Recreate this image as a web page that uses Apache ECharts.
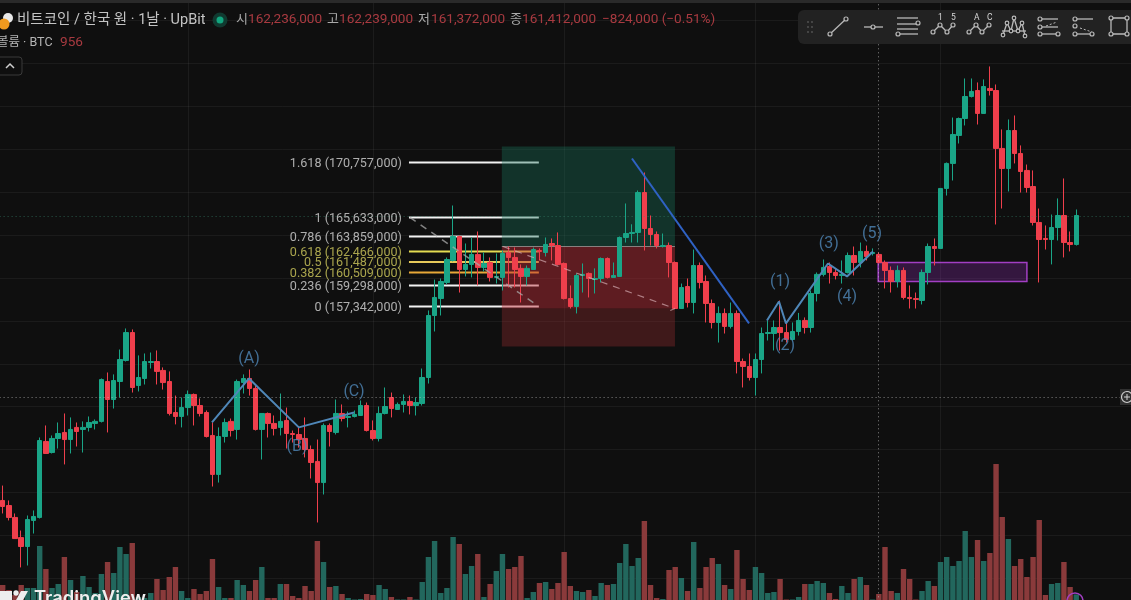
<!DOCTYPE html>
<html><head><meta charset="utf-8">
<style>html,body{margin:0;padding:0;background:#0f0f0f;overflow:hidden}#c{width:1131px;height:600px;filter:blur(0.35px)}</style>
<script src="https://cdn.jsdelivr.net/npm/echarts@6/dist/echarts.min.js"></script>
</head><body><div id="c"></div>
<script>
const opens=[139.26,138.79,137.68,135.80,134.97,137.40,137.68,144.76,143.73,145.04,
145.60,144.94,146.07,145.88,146.07,146.44,146.63,150.35,148.67,150.35,
152.31,154.91,149.98,150.63,152.12,152.21,151.38,150.35,147.46,147.09,
147.92,149.14,148.11,147.46,145.32,141.69,145.22,146.63,145.88,150.25,
150.63,149.70,145.88,147.37,146.44,146.07,146.72,145.50,145.41,145.04,
144.01,142.90,140.93,146.25,145.60,147.37,147.00,147.09,147.18,148.11,
145.78,145.04,147.37,148.86,147.74,148.21,148.49,148.11,148.30,150.72,
156.50,158.08,159.58,161.63,163.86,160.79,161.26,162.19,160.98,161.44,
160.05,160.05,162.37,161.91,160.89,160.14,160.79,162.56,162.37,163.21,
163.02,161.35,158.08,157.34,160.23,160.42,159.86,159.95,161.81,160.05,
160.14,163.77,164.14,164.24,167.96,164.61,164.05,162.93,163.02,161.44,
157.15,159.20,157.71,161.16,159.67,157.62,155.85,156.69,155.48,156.69,
152.21,151.75,150.72,152.40,154.82,154.82,155.38,154.91,154.26,155.01,
156.04,155.38,158.55,160.33,161.07,160.51,160.23,160.51,162.09,161.44,
162.47,162.28,162.19,161.44,160.70,159.67,160.70,158.18,158.08,157.90,
160.51,162.93,162.75,168.34,170.67,173.28,174.86,176.91,177.47,175.33,
177.66,177.47,172.07,170.20,173.74,171.60,170.02,168.52,165.17,163.68,
163.58,164.70,165.82,163.30,163.12];
const closes=[138.70,137.68,135.71,134.97,137.49,137.77,144.85,143.64,145.04,145.50,
144.94,145.88,145.69,146.07,146.53,146.63,150.53,148.67,150.44,152.40,
154.91,149.79,150.72,152.21,152.21,151.29,150.25,147.37,147.09,147.92,
149.14,148.11,147.37,145.22,141.69,145.22,146.53,145.78,150.35,150.63,
149.70,145.88,147.37,146.44,145.97,146.63,145.50,145.41,144.94,144.01,
142.80,140.93,146.25,145.69,147.37,146.90,147.09,147.28,148.11,145.78,
145.04,147.37,148.02,147.83,148.21,148.49,148.11,148.39,150.72,156.50,
158.18,159.67,161.72,163.86,160.79,161.26,162.19,160.98,161.35,160.05,
160.14,162.28,161.91,160.79,160.14,160.89,162.65,162.47,163.12,163.02,
161.26,158.08,157.34,160.23,160.33,159.95,159.95,161.81,160.05,160.23,
163.77,164.14,164.24,167.96,164.61,164.05,163.02,163.02,161.44,157.15,
159.11,157.71,161.16,159.58,157.62,155.85,156.69,155.48,156.69,152.21,
151.75,150.72,152.40,154.82,154.91,155.38,154.91,154.26,155.01,156.04,
155.38,158.55,160.33,160.98,160.51,160.23,160.33,162.09,161.44,162.47,
162.00,162.37,161.44,160.70,159.67,160.70,158.18,158.08,157.99,160.51,
162.93,162.75,168.34,170.67,173.37,174.86,176.91,177.38,175.33,177.84,
177.47,172.07,170.20,173.74,171.60,169.92,168.43,165.17,163.58,163.58,
164.70,165.82,163.30,163.12,165.82];
const lows=[138.05,137.40,135.71,133.02,133.20,136.18,137.58,143.64,143.64,144.10,
142.62,143.64,144.29,143.73,145.69,145.88,146.53,145.60,147.83,148.86,
152.21,149.32,149.42,150.07,151.56,150.07,149.60,147.18,146.35,146.07,
147.18,146.25,147.09,145.13,140.56,140.93,144.66,145.22,144.94,149.23,
149.04,145.78,143.08,145.13,145.32,145.32,144.10,144.66,144.19,143.27,
141.31,137.21,139.82,144.29,145.41,146.63,146.07,147.00,147.18,145.69,
144.85,144.76,147.28,147.00,147.74,147.46,147.28,147.18,148.11,150.16,
155.01,156.50,159.39,161.54,158.64,160.14,160.05,159.30,160.61,159.67,
159.48,158.83,159.11,159.11,157.71,159.30,160.79,161.63,162.00,161.63,
161.16,157.99,157.15,156.69,158.64,158.18,158.55,159.58,159.95,160.05,
160.14,163.30,163.30,163.30,162.56,163.02,162.75,162.84,160.05,157.15,
157.15,157.25,156.69,159.02,155.85,155.29,153.98,154.82,155.29,151.10,
149.79,150.44,149.04,151.10,154.17,153.24,153.24,153.98,154.17,154.63,
154.82,154.91,157.81,160.14,159.48,159.86,159.48,160.42,160.23,160.98,
161.63,162.09,161.35,159.02,158.64,159.11,157.99,157.15,157.15,157.53,
159.39,161.16,162.75,167.68,169.08,172.53,174.21,176.82,174.30,175.33,
177.00,164.98,166.47,168.06,170.67,167.96,167.96,164.89,159.58,162.65,
161.26,163.49,161.91,162.47,163.02];
const highs=[140.65,139.26,138.05,136.46,137.86,138.33,145.13,146.25,145.32,146.53,
147.37,147.00,146.53,146.63,147.09,146.81,150.63,151.19,151.01,153.33,
155.29,155.20,152.78,152.96,153.05,153.24,151.66,151.29,149.04,148.86,
149.51,149.23,148.77,147.65,146.53,146.07,146.90,146.90,150.53,151.01,
151.47,149.98,147.37,147.46,147.18,149.23,147.92,145.78,146.07,147.00,
144.38,144.94,146.44,146.44,148.67,148.21,147.55,147.65,148.58,148.39,
146.72,148.02,149.79,149.32,148.39,149.14,149.04,148.86,151.56,156.97,
159.85,159.95,161.91,166.75,163.95,163.21,163.77,164.33,162.37,161.91,
162.28,162.56,162.93,162.84,161.26,161.16,162.84,162.75,163.77,163.68,
164.24,161.44,159.30,160.42,161.35,160.51,160.89,161.91,161.91,161.44,
163.86,166.94,165.00,168.15,169.83,165.82,164.33,164.14,163.30,161.54,
159.48,159.95,162.65,161.44,160.23,157.99,157.34,157.15,157.71,156.97,
152.49,152.96,152.96,155.38,156.04,156.04,157.90,155.85,155.85,156.74,
156.32,158.83,160.51,161.72,161.44,160.89,161.63,162.37,162.93,163.30,
163.02,162.75,162.37,161.63,161.07,161.16,160.98,159.30,158.64,160.79,
163.21,163.68,168.34,170.76,174.95,174.95,178.59,178.59,178.22,178.50,
179.71,178.03,173.84,174.77,175.14,172.35,170.57,170.02,166.47,164.89,
165.91,167.41,169.27,164.33,166.38];
const volumes=[1050,1000,950,1050,1020,1020,1440,1210,1020,1060,
1330,1100,980,1140,1030,970,1160,1280,1170,1430,
1360,1470,930,920,970,1110,1000,1130,1230,990,
920,1010,960,990,1310,1030,920,920,1100,1050,
990,1100,1230,920,920,1060,1060,940,920,1040,
990,1490,1280,1030,1040,960,920,905,910,960,
950,1050,1010,930,905,905,930,905,1080,1330,
1490,970,1020,1530,1460,1160,1240,1360,930,1060,
1190,1360,1210,1230,1340,920,980,1070,1080,1010,
1070,1380,1040,990,980,1000,940,1070,1050,1060,
1270,1460,1240,1320,1690,1050,920,910,1200,1230,
1120,990,1480,1020,1230,1320,1260,1050,1010,1400,
1110,1000,1230,1170,970,980,1110,905,905,930,
1060,1060,1090,1070,970,910,1040,970,1110,1130,
1050,905,960,1430,990,970,1210,1110,905,990,
1090,1040,1280,1330,1240,1290,1590,1330,1500,1290,
1370,2260,1730,1510,1240,1310,1130,1330,1700,950,
1060,1070,1280,1030,956];
const fibLevels=[170.757,165.633,163.859,162.466,161.487,160.509,159.298,157.342];
const fibNames=['1.618 (170,757,000)','1 (165,633,000)','0.786 (163,859,000)','0.618 (162,466,000)','0.5 (161,487,000)','0.382 (160,509,000)','0.236 (159,298,000)','0 (157,342,000)'];
const fibColors=['#f2f2f2','#f2f2f2','#f2f2f2','#e4dc52','#e6c95a','#e8a838','#f2f2f2','#f2f2f2'];
const fibTextColors=['#d6d6d6','#d6d6d6','#d6d6d6','#cfc95c','#cfc95c','#cfc95c','#d6d6d6','#d6d6d6'];
const fibSpan=[65.85,86.9];
const abcWave=[[33.92,146.53],[39.92,150.63],[48.0,146.07],[56.94,147.46]];
const impulseWave=[[123.87,156.04],[125.82,157.81],[126.95,155.76],[133.76,161.35],[136.84,160.14],[141.05,162.47]];
const trendLine=[[101.99,171.13],[120.96,155.76]];
const dashA=[[66.0,165.64],[86.43,157.53]];
const dashB=[[81.08,162.93],[108.96,157.15],[108.2,156.97]];
const waveLabels=[['(A)',39.92,152.4],['(B)',47.7,144.2],['(C)',56.94,149.33],['(1)',125.98,159.58],['(2)',126.8,153.7],['(3)',133.9,163.12],['(4)',136.84,158.27],['(5)',140.9,164.14]];
const monthLines=[30,60,91,122,152];
const posSpan=[80.9,108.96];
const posLevels=[172.25,162.93,157.15,153.61];
const zoneBox=[[141.9,161.44],[166,159.67]];
const lastLine=165.73, crossPrice=148.86, crossIndex=141.9;
const PRICE_MIN=128, PRICE_MAX=188, SLOTS=184;

const categories=Array.from({length:SLOTS},(_,i)=>'D'+i);
const candle=opens.map((o,i)=>[o,closes[i],lows[i],highs[i]]);
const GREEN='#1aa587',RED='#ef3f4c',VG='#22675d',VR='#8a3a3b',BLUE='#4f87b8';
const FONT='Roboto,"Noto Sans CJK KR",sans-serif';
const volData=volumes.map((v,i)=>({value:v,itemStyle:{color:closes[i]>=opens[i]?VG:VR}}));
const ln=(data,color,width,z,extra)=>Object.assign({type:'line',xAxisIndex:1,yAxisIndex:0,data,symbol:'none',silent:true,z,
  lineStyle:Object.assign({color,width},extra||{}),animation:false},{});
const series=[];
series.push({type:'bar',xAxisIndex:2,yAxisIndex:1,data:volData,barWidth:5.4,z:1,silent:true,animation:false});
series.push({type:'line',xAxisIndex:1,yAxisIndex:0,data:[],z:1,silent:true,animation:false,
  markLine:{silent:true,symbol:'none',animation:false,label:{show:false},z:1,
   data:monthLines.map(x=>({xAxis:x,lineStyle:{color:'rgba(255,255,255,0.055)',width:1,type:'solid'}}))}});
fibLevels.forEach((p,i)=>series.push(ln([[fibSpan[0],p],[fibSpan[1],p]],fibColors[i],2,2)));
series.push({type:'scatter',xAxisIndex:1,yAxisIndex:0,symbolSize:0,z:6,silent:true,animation:false,
  data:fibLevels.map((p,i)=>({value:[fibSpan[0],p],label:{show:true,position:'left',distance:7,offset:[0,1],formatter:fibNames[i],color:fibTextColors[i],fontSize:12.6,fontFamily:FONT}}))});
series.push({type:'line',xAxisIndex:1,yAxisIndex:0,data:[],z:3,silent:true,animation:false,
  markArea:{silent:true,animation:false,z:3,label:{show:false},data:[
   [{coord:[posSpan[0],posLevels[0]],itemStyle:{color:'rgba(24,110,88,0.38)'}},{coord:[posSpan[1],posLevels[1]]}],
   [{coord:[posSpan[0],posLevels[1]],itemStyle:{color:'rgba(190,45,55,0.45)'}},{coord:[posSpan[1],posLevels[2]]}],
   [{coord:[posSpan[0],posLevels[2]],itemStyle:{color:'rgba(160,45,50,0.33)'}},{coord:[posSpan[1],posLevels[3]]}],
   [{coord:zoneBox[0],itemStyle:{color:'rgba(130,40,165,0.32)',borderColor:'#a23fc4',borderWidth:1.5}},{coord:zoneBox[1]}]
  ]}});
series.push(ln([[posSpan[0],posLevels[1]],[posSpan[1],posLevels[1]]],'rgba(190,190,190,0.6)',1,3));
series.push({type:'candlestick',xAxisIndex:0,yAxisIndex:0,data:candle,barWidth:5,z:4,silent:true,animation:false,
  itemStyle:{color:GREEN,color0:RED,borderColor:GREEN,borderColor0:RED,borderWidth:1}});
series.push(ln(dashA,'rgba(170,170,170,0.75)',1.5,5,{type:[7,6]}));
series.push(ln(dashB,'rgba(210,170,175,0.7)',1.2,5,{type:[7,6]}));
series.push(ln(abcWave,BLUE,2,5));
series.push(ln(impulseWave,BLUE,2,5));
series.push(ln(trendLine,'#2f62c4',2,5));
series.push({type:'line',xAxisIndex:1,yAxisIndex:0,data:[],z:5,silent:true,animation:false,
  markLine:{silent:true,symbol:'none',animation:false,label:{show:false},data:[
   {yAxis:lastLine,lineStyle:{color:'rgba(60,150,120,0.55)',type:[1,3],width:1}},
   {yAxis:crossPrice,lineStyle:{color:'rgba(210,210,210,0.6)',type:[1,3],width:1}},
   {xAxis:crossIndex,lineStyle:{color:'rgba(210,210,210,0.6)',type:[1,3],width:1}}
  ]}});
series.push({type:'scatter',xAxisIndex:1,yAxisIndex:0,symbolSize:0,z:6,silent:true,animation:false,
  data:waveLabels.map(w=>({value:[w[1],w[2]],label:{show:true,position:'inside',formatter:w[0],color:'#4f87b8',fontSize:16,fontFamily:FONT}}))});

const g=[];
const txt=(x,y,t,color,size,extra)=>g.push({type:'text',x,y,z:100,style:Object.assign({text:t,fill:color,font:`${size}px Roboto,"Noto Sans CJK KR"`,textVerticalAlign:'middle'},extra||{})});
const seg=(pts,stroke,w,dash)=>g.push({type:'polyline',z:100,shape:{points:pts},style:{stroke,lineWidth:w||1.3,fill:null,lineDash:dash||null}});
const dot=(x,y,r,stroke,fill,w)=>g.push({type:'circle',z:101,shape:{cx:x,cy:y,r},style:{stroke:stroke||null,fill:fill||'transparent',lineWidth:w||1.2}});
const box=(x,y,w,h,fill,stroke,r)=>g.push({type:'rect',z:99,shape:{x,y,width:w,height:h,r:r||0},style:{fill,stroke:stroke||null,lineWidth:1}});
const IC='#b9b9b9';
box(0,0,1131,3,'#2a2a2a');
// header
dot(8,18,5,null,'#e8e8e8');dot(4,24,5.5,null,'#f09a1f');
txt(17,20,'비트코인 / 한국 원 · 1날 · UpBit','#c4c4c4',14.5);
dot(220,20,7.5,null,'#103a30');dot(220,20,3.5,null,'#12a67f');
const HR='#a83a40',HT='#a9a9a9';
txt(236,20,'시',HT,13);txt(248,20,'162,236,000',HR,13.6);
txt(327,20,'고',HT,13);txt(339,20,'162,239,000',HR,13.6);
txt(418,20,'저',HT,13);txt(431,20,'161,372,000',HR,13.6);
txt(510,20,'종',HT,13);txt(522,20,'161,412,000',HR,13.6);
txt(602,20,'−824,000 (−0.51%)',HR,13.6);
txt(-3,43,'볼륨 · BTC','#b5b5b5',12.5);txt(60,43,'956',HR,13.6);
box(-3,57,25,18,'#0f0f0f','#3a3a3a',3);seg([[6,68],[10,64],[14,68]],'#cfcfcf',1.5);
// toolbar
box(798,10,340,34,'#222222',null,6);
[[808,22],[812,22],[808,27],[812,27],[808,32],[812,32]].forEach(p=>dot(p[0],p[1],0.9,null,'#555'));
seg([[830,34],[846,19]],IC);dot(830,34,2,IC,'#222');dot(846,19,2,IC,'#222');
seg([[864,27],[883,27]],IC);dot(873,27,2,IC,'#222');
[18,24,29,34].forEach(y=>seg([[897,y],[918,y]],IC));dot(918,23,2,IC,'#222');dot(898,34,2,IC,'#222');
[[933,940,947,953,'1','5'],[969,976,982,989,'A','C']].forEach(a=>{
 seg([[a[0],32],[a[1],25],[a[2],32],[a[3],25]],IC);
 [[a[0],32],[a[1],25],[a[2],32],[a[3],25]].forEach(p=>dot(p[0],p[1],2,IC,'#222'));
 txt(a[1]-2,18,a[4],'#d5d5d5',8.5);txt(a[3]-2,18,a[5],'#d5d5d5',8.5);
});
const hp=[[1003,35],[1007,23],[1011,31],[1014,18],[1018,31],[1022,23],[1025,36]];
seg(hp,IC);seg([[1002,31],[1026,31]],IC);hp.forEach(p=>dot(p[0],p[1],1.8,IC,'#222'));
[19,27,34].forEach(y=>{seg([[1040,y],[1058,y]],IC);dot(1040,y,2,IC,'#222');});dot(1058,34,2,IC,'#222');seg([[1046,26],[1057,22]],IC,1,[2,2]);
[19,34].forEach(y=>{seg([[1075,y],[1093,y]],IC);});[19,26,34].forEach(y=>dot(1075,y,2,IC,'#222'));dot(1092,34,2,IC,'#222');seg([[1080,28],[1092,32]],IC,1,[2,2]);
seg([[1111,18],[1127,18],[1127,34],[1111,34],[1111,18]],IC);[[1111,18],[1127,18],[1111,34],[1127,34]].forEach(p=>dot(p[0],p[1],2,IC,'#222'));
// crosshair button
box(1120,389,14,16,'#303030');dot(1127,397,5.5,'#d0d0d0','transparent');seg([[1124,397],[1130,397]],'#d0d0d0',1);seg([[1127,394],[1127,400]],'#d0d0d0',1);
// logo
g.push({type:'polygon',z:100,shape:{points:[[0,591],[12,591],[12,602],[0,602]]},style:{fill:'#eeeeee'}});
dot(16,593,2.7,null,'#eeeeee');
g.push({type:'polygon',z:100,shape:{points:[[21,591],[28,591],[22,602],[15,602]]},style:{fill:'#eeeeee'}});
g.push({type:'text',x:34,y:598,z:100,style:{text:'TradingView',fill:'#eeeeee',font:'600 18.4px Inter,Roboto',textVerticalAlign:'middle'}});
dot(1075,601,8,'#a23fc4','transparent',1.5);

const chart=echarts.init(document.getElementById('c'),null,{renderer:'canvas'});
chart.setOption({
 backgroundColor:'#0f0f0f',animation:false,tooltip:{show:false},legend:{show:false},
 grid:[
  {left:-0.4,top:-22.5,width:1135.28,height:643.8,show:false,outerBoundsMode:'none'},
  {left:-0.4,top:0,width:1135.28,height:600,show:false,outerBoundsMode:'none'}],
 xAxis:[
  {type:'category',gridIndex:0,data:categories,boundaryGap:true,axisLine:{show:false},axisTick:{show:false},axisLabel:{show:false},splitLine:{show:false}},
  {type:'value',gridIndex:0,min:-0.5,max:SLOTS-0.5,axisLine:{show:false},axisTick:{show:false},axisLabel:{show:false},splitLine:{show:false}},
  {type:'category',gridIndex:1,data:categories,boundaryGap:true,axisLine:{show:false},axisTick:{show:false},axisLabel:{show:false},splitLine:{show:false}}],
 yAxis:[
  {type:'value',gridIndex:0,min:PRICE_MIN,max:PRICE_MAX,interval:4,axisLine:{show:false},axisTick:{show:false},axisLabel:{show:false},splitLine:{show:true,lineStyle:{color:'rgba(255,255,255,0.05)',width:1}}},
  {type:'value',gridIndex:1,min:900,max:6900,axisLine:{show:false},axisTick:{show:false},axisLabel:{show:false},splitLine:{show:false}}],
 series,graphic:{elements:g}
});
</script></body></html>
